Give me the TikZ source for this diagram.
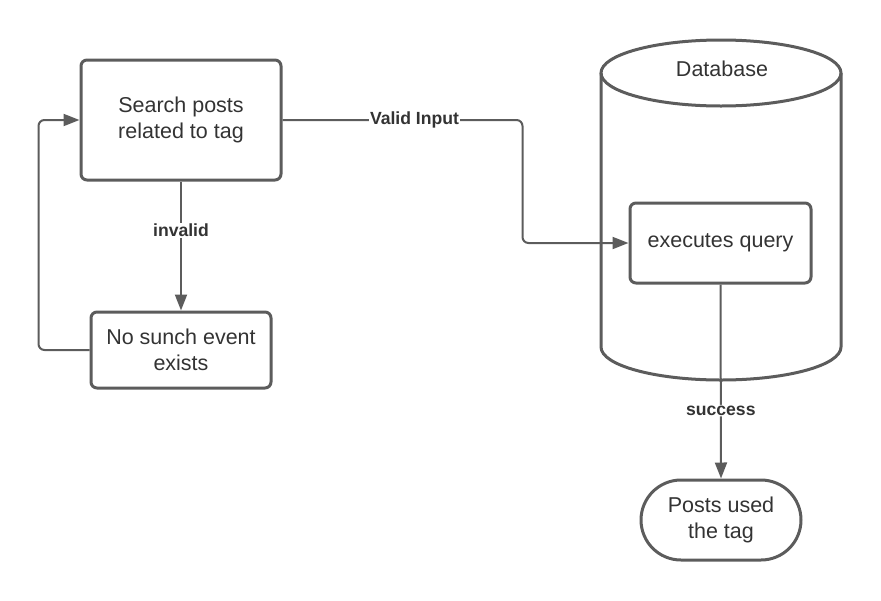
\documentclass[tikz,border=0pt]{standalone}
\usepackage{fontspec}
\setmainfont{Liberation Sans}
\usetikzlibrary{arrows.meta}
\definecolor{linegray}{RGB}{92,92,92}
\definecolor{textgray}{RGB}{51,51,51}

\begin{document}
\begin{tikzpicture}[x=1pt, y=-1pt,
    box/.style={draw=linegray, line width=3pt, rounded corners=6pt, align=center,
        text=textgray, font=\fontsize{21.5}{26}\selectfont},
    conn/.style={draw=linegray, line width=2pt, rounded corners=6pt,
        -{Triangle[length=16pt, width=12pt]}},
    lbl/.style={fill=white, inner sep=1pt, text=textgray, font=\fontsize{17.6}{20}\selectfont\bfseries}]

    \useasboundingbox (0,0) rectangle (881,600);

    %Database cylinder
    \draw[linegray, line width=3pt] (721,73) ellipse [x radius=120pt, y radius=33pt];
    \draw[linegray, line width=3pt] (601,73) -- (601,347)
        arc[start angle=180, end angle=360, x radius=120pt, y radius=33pt] -- (841,73);
    \node[text=textgray, font=\fontsize{21.5}{26}\selectfont] (dbname) at (722,69) {Database};

    %Steps
    \node[box, minimum width=200pt, minimum height=120pt] (search) at (181,120) {Search posts\\related to tag};
    \node[box, minimum width=180pt, minimum height=76pt] (nosuch) at (181,350) {No sunch event\\exists};
    \node[box, minimum width=181pt, minimum height=80pt] (query) at (720.5,243) {executes query};
    \node[box, rounded corners=40pt, minimum width=160pt, minimum height=80pt] (posts) at (721,520) {Posts used\\the tag};

    %Connectors
    \draw[conn] (search.east) -- node[lbl, pos=0.55] {Valid Input} ++(240,0) |- (query.west);
    \draw[conn] (search.south) -- node[lbl, pos=0.38] {invalid} (nosuch.north);
    \draw[conn] (nosuch.west) -- ++(-51,0) |- (search.west);
    \draw[conn] (query.south) -- node[lbl, pos=0.65] {success} (posts.north);

\end{tikzpicture}
\end{document}
